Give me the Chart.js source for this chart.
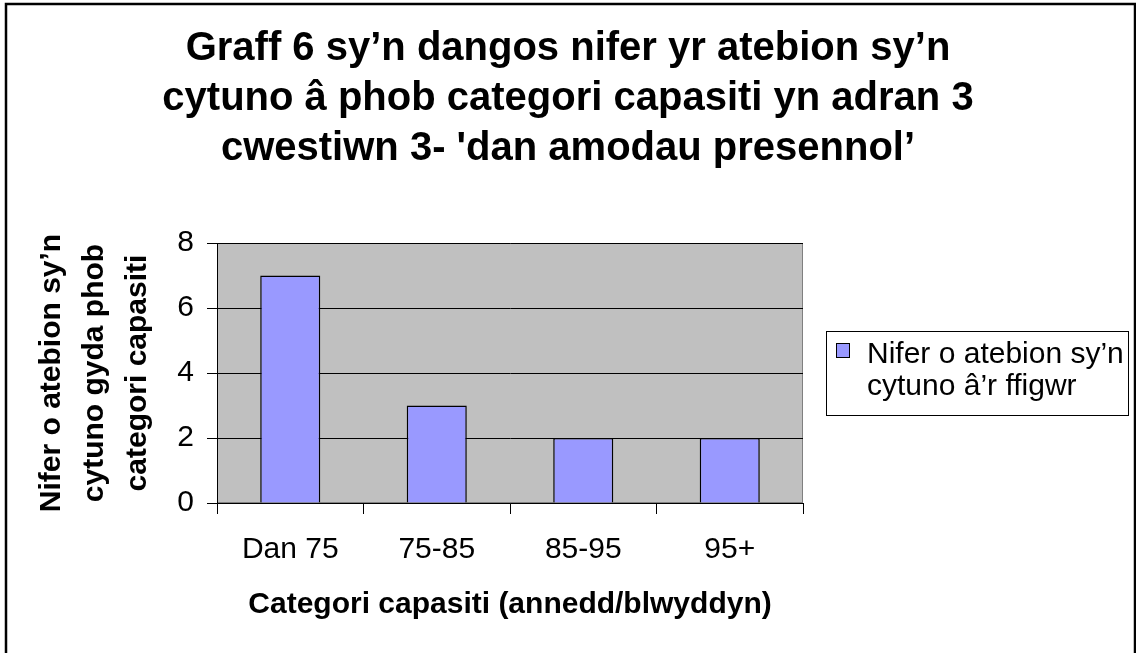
<!DOCTYPE html>
<html>
<head>
<meta charset="utf-8">
<script src="https://cdn.jsdelivr.net/npm/chart.js@4.4.0/dist/chart.umd.min.js"></script>
<style>
    html, body { margin: 0; padding: 0; background: #fff; }
    #wrap { width: 1136px; height: 653px; }
</style>
</head>
<body>
<div id="wrap"><canvas id="capacityChart" width="1136" height="653"></canvas></div>
<script>
const categories = ['Dan 75', '75-85', '85-95', '95+'];
const agreeCounts = [7, 3, 2, 2];
const yTicks = [0, 2, 4, 6, 8];
const titleLines = [
    'Graff 6 sy’n dangos nifer yr atebion sy’n',
    'cytuno â phob categori capasiti yn adran 3',
    'cwestiwn 3- \'dan amodau presennol’'
];
const yTitleLines = ['Nifer o atebion sy’n', 'cytuno gyda phob', 'categori capasiti'];
const xTitle = 'Categori capasiti (annedd/blwyddyn)';
const legendLines = ['Nifer o atebion sy’n', 'cytuno â’r ffigwr'];

const FONT = "'Liberation Sans', Arial, sans-serif";
Chart.defaults.font.family = FONT;
Chart.defaults.color = '#000';

// grey plot area + outer frame, like the old spreadsheet chart
const frame = {
    id: 'frame',
    beforeDraw(chart) {
        const { ctx, chartArea: a } = chart;
        ctx.save();
        ctx.fillStyle = '#fff';
        ctx.fillRect(0, 0, chart.width, chart.height);
        ctx.fillStyle = '#c0c0c0';
        ctx.fillRect(a.left, a.top, a.right - a.left, a.bottom - a.top);
        ctx.strokeStyle = '#808080';
        ctx.lineWidth = 1;
        ctx.strokeRect(a.left + 0.5, a.top + 0.5, a.right - a.left - 1, a.bottom - a.top - 1);
        ctx.restore();
    },
    afterDraw(chart) {
        const ctx = chart.ctx;
        ctx.save();
        ctx.strokeStyle = '#000';
        ctx.lineWidth = 2.5;
        ctx.strokeRect(6, 4, 1129, 660);
        ctx.restore();
    }
};

// two-line legend box on the right
const boxLegend = {
    id: 'boxLegend',
    afterDraw(chart) {
        const ctx = chart.ctx;
        const ds = chart.data.datasets[0];
        ctx.save();
        ctx.fillStyle = '#fff';
        ctx.fillRect(826, 331, 302, 85);
        ctx.strokeStyle = '#000';
        ctx.lineWidth = 1;
        ctx.strokeRect(826.5, 331.5, 302, 84);
        ctx.fillStyle = ds.backgroundColor;
        ctx.fillRect(836, 343, 13, 14);
        ctx.strokeRect(836.5, 343.5, 13, 14);
        ctx.fillStyle = '#000';
        ctx.font = '30px ' + FONT;
        ctx.textBaseline = 'alphabetic';
        ctx.fillText(legendLines[0], 867, 363);
        ctx.fillText(legendLines[1], 867, 395);
        ctx.restore();
    }
};

const ctx = document.getElementById('capacityChart').getContext('2d');
new Chart(ctx, {
    type: 'bar',
    data: {
        labels: categories,
        datasets: [{
            label: legendLines.join(' '),
            data: agreeCounts,
            backgroundColor: '#9999ff',
            borderColor: '#000',
            borderWidth: 1.5,
            barPercentage: 0.41,
            categoryPercentage: 1
        }]
    },
    options: {
        responsive: false,
        animation: false,
        layout: { padding: 0 },
        plugins: {
            legend: { display: false },
            tooltip: { enabled: false },
            title: {
                display: true,
                text: titleLines,
                color: '#000',
                font: { size: 40, weight: 'bold', lineHeight: 1.25 },
                padding: { top: 24, bottom: 69 }
            }
        },
        scales: {
            x: {
                grid: { display: true, drawOnChartArea: false, color: '#000', tickLength: 11 },
                border: { color: '#000', width: 1 },
                ticks: { font: { size: 30 }, color: '#000', padding: 18 },
                title: {
                    display: true,
                    text: xTitle,
                    color: '#000',
                    font: { size: 30, weight: 'bold', lineHeight: 1.2 },
                    padding: { top: 0, bottom: 30 }
                },
                afterFit(scale) { scale.height = 150; }
            },
            y: {
                min: 0,
                max: 8,
                afterBuildTicks(scale) { scale.ticks = yTicks.map(v => ({ value: v })); },
                grid: { color: '#000', lineWidth: 1, tickLength: 10 },
                border: { color: '#000', width: 1 },
                ticks: { font: { size: 30 }, color: '#000', padding: 13 },
                title: {
                    display: true,
                    text: yTitleLines,
                    color: '#000',
                    font: { size: 30, weight: 'bold', lineHeight: 1.433 },
                    padding: { top: 30, bottom: 0 }
                },
                afterFit(scale) { scale.width = 217; }
            },
            legendSpace: {
                position: 'right',
                display: true,
                grid: { display: false },
                border: { display: false },
                ticks: { display: false },
                afterFit(scale) { scale.width = 333; }
            }
        }
    },
    plugins: [frame, boxLegend]
});
</script>
</body>
</html>
